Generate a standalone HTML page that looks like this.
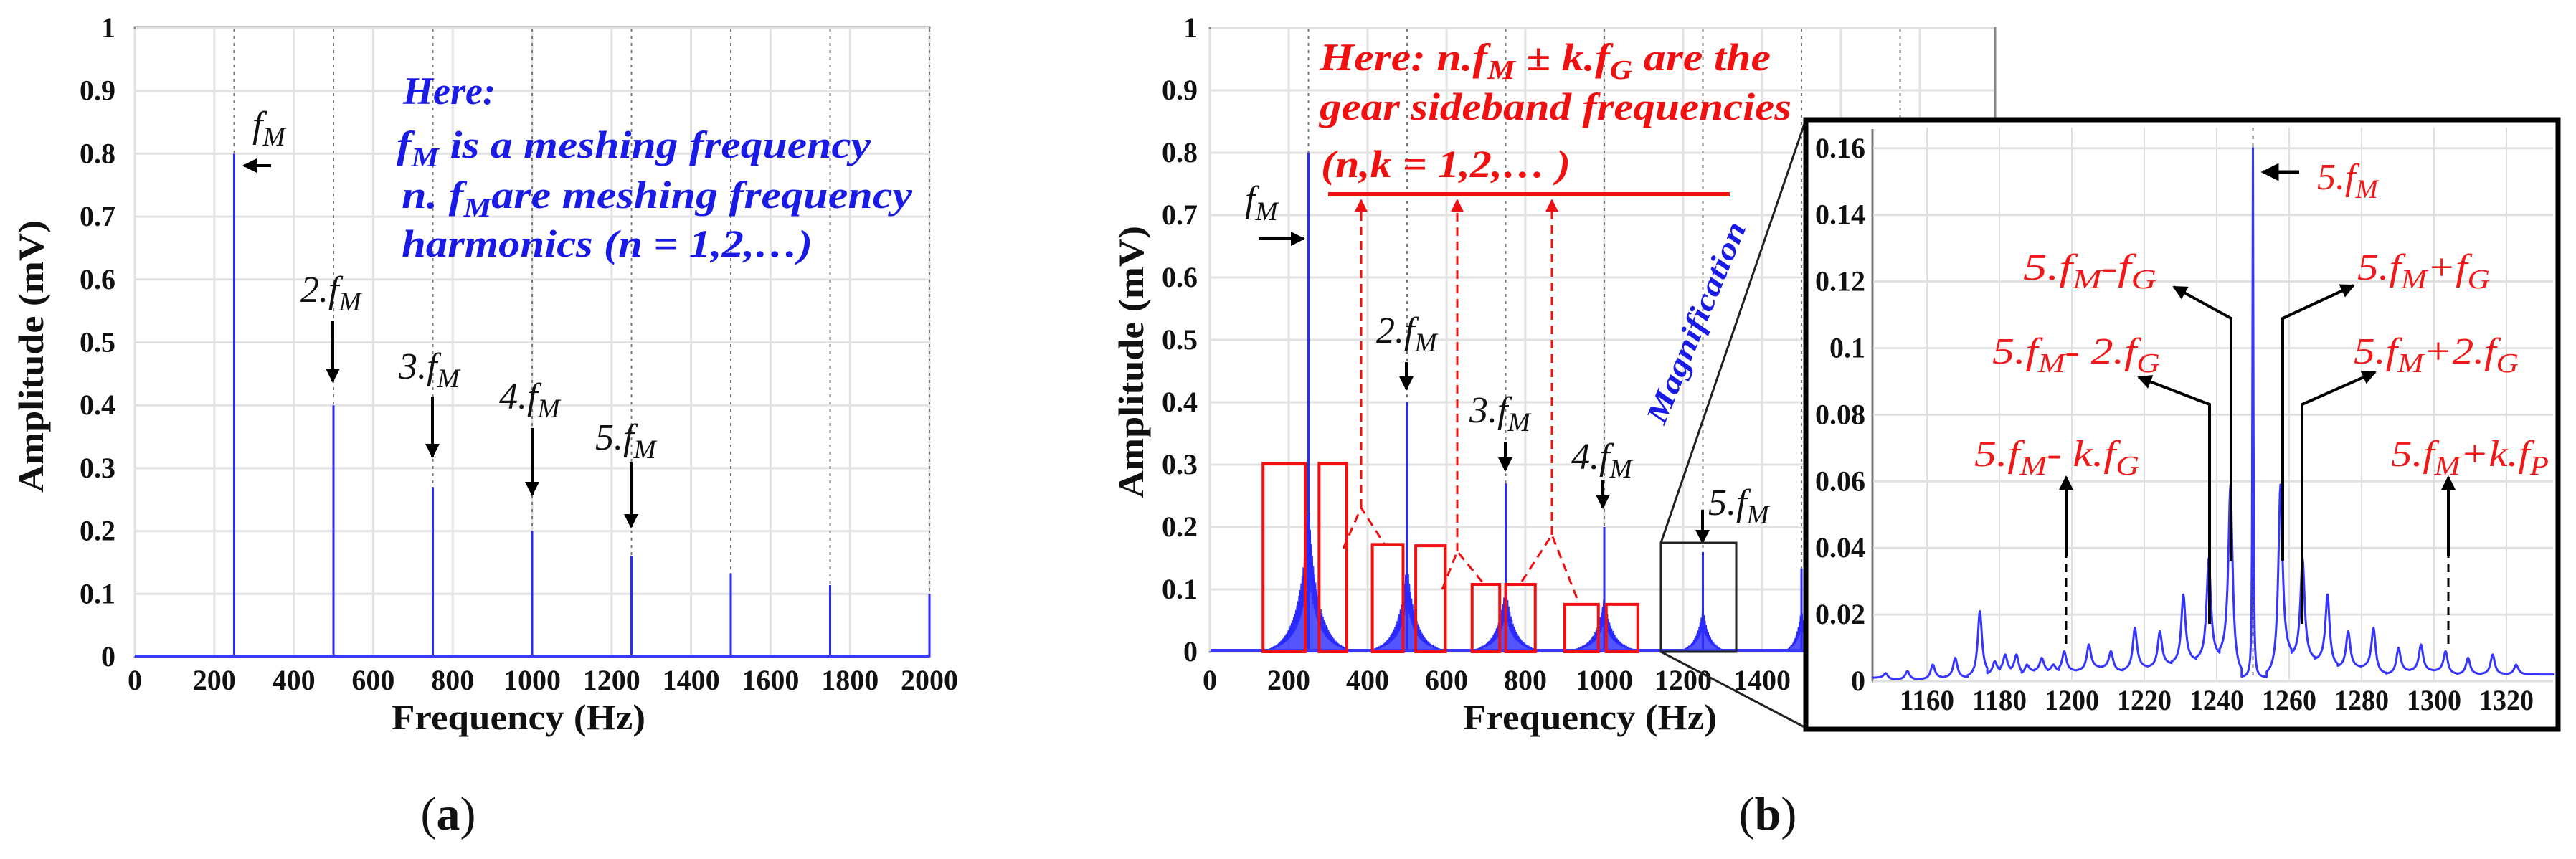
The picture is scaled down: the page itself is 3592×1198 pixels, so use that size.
<!DOCTYPE html>
<html><head><meta charset="utf-8"><style>
html,body{margin:0;padding:0;background:#fff;}
svg{display:block;}
text{font-family:"Liberation Serif","DejaVu Serif",serif;}
.tk{font-weight:bold;font-size:40px;fill:#111;}
.ttl{font-weight:bold;font-size:50px;fill:#111;}
.ann{font-style:italic;font-size:52px;fill:#111;}
.blue{font-style:italic;font-weight:bold;font-size:54px;fill:#1a1ae6;}
.red{font-style:italic;font-weight:bold;font-size:54px;fill:#f01010;}
.redi{font-style:italic;font-size:52px;fill:#f01818;}
</style></head><body>
<svg id="fig" width="3592" height="1198" viewBox="0 0 3592 1198" xmlns="http://www.w3.org/2000/svg">
<defs>
<marker id="ah" viewBox="0 0 10 10" refX="9" refY="5" markerWidth="5" markerHeight="5" orient="auto"><path d="M0,0 L10,5 L0,10 z" fill="#000"/></marker>
<marker id="ahr" viewBox="0 0 10 10" refX="9" refY="5" markerWidth="6" markerHeight="6" orient="auto"><path d="M0,0 L10,5 L0,10 z" fill="#f01010"/></marker>
</defs>
<g id="pa"></g>
<g id="pb"></g>
<g id="pi"></g>
</svg>
<script>
const aXTicks=[0,200,400,600,800,1000,1200,1400,1600,1800,2000];
const aYTicks=[0,0.1,0.2,0.3,0.4,0.5,0.6,0.7,0.8,0.9,1];
const aYTickLabels=["0","0.1","0.2","0.3","0.4","0.5","0.6","0.7","0.8","0.9","1"];
const aHarmHz=[250,500,750,1000,1250,1500,1750,2000];
const aHarmAmp=[0.8,0.4,0.27,0.2,0.16,0.133,0.114,0.1];

const bXTicks=[0,200,400,600,800,1000,1200,1400];
const bYTicks=[0,0.1,0.2,0.3,0.4,0.5,0.6,0.7,0.8,0.9,1];
const bHarmHz=[250,500,750,1000,1250,1500];
const bHarmAmp=[0.8,0.4,0.27,0.2,0.16,0.133];
const bSkirtAmp=[0.25,0.15,0.11,0.09,0.07,0.07];
const bSkirtHalfWidth=[110,95,85,85,55,40];
const bBoxLeftHz=[135,277,412,522,665,750,900,1005];
const bBoxRightHz=[242,347,490,597,735,825,985,1085];
const bBoxTop=[0.302,0.302,0.172,0.17,0.108,0.108,0.076,0.076];

const iXTicks=[1160,1180,1200,1220,1240,1260,1280,1300,1320];
const iYTicks=[0,0.02,0.04,0.06,0.08,0.1,0.12,0.14,0.16];
const iYTickLabels=["0","0.02","0.04","0.06","0.08","0.1","0.12","0.14","0.16"];
const iPeakHz=[1148.6,1154.6,1161.6,1167.8,1174.6,1178.7,1181.6,1184.7,1187.6,1191.7,1194.9,1197.9,1204.7,1210.8,1217.4,1224.3,1230.8,1237.8,1243.8,1250,1257.6,1263.7,1270.6,1276.3,1283.3,1290.2,1296.4,1303.2,1309.4,1316.2,1322.7];
const iPeakAmp=[0.0024,0.003,0.005,0.007,0.021,0.006,0.008,0.008,0.005,0.007,0.005,0.009,0.011,0.009,0.016,0.015,0.026,0.037,0.059,0.16,0.059,0.037,0.026,0.015,0.016,0.010,0.011,0.009,0.007,0.008,0.005];
const iTroughAmp=[0.001,0.0005,0.0005,0.001,0.001,0.002,0.003,0.003,0.002,0.003,0.003,0.003,0.003,0.004,0.003,0.004,0.005,0.006,0.007,0.001,0.001,0.007,0.006,0.004,0.004,0.002,0.003,0.003,0.002,0.002,0.002,0.002];

const NS="http://www.w3.org/2000/svg";
function mk(parent,tag,attrs){const e=document.createElementNS(NS,tag);for(const k in attrs)e.setAttribute(k,attrs[k]);parent.appendChild(e);return e;}
function fm(parent,x,y,pre,sub,cls,size){
  const t=mk(parent,'text',{x:x,y:y,class:cls});
  const a=mk(t,'tspan',{});a.textContent=pre+'f';
  const b=mk(t,'tspan',{dy:12,'font-size':size*0.72});b.textContent=sub;
  return t;
}

/* ---------- Panel A ---------- */
const pa=document.getElementById('pa');
const xa=f=>188+f*0.554;
const ya=v=>916-v*877;
mk(pa,'rect',{x:188,y:38,width:1108,height:878,fill:'#fff',stroke:'#888','stroke-width':3});
aXTicks.forEach(t=>{
  const l=mk(pa,'line',{x1:xa(t),x2:xa(t),y1:40,y2:915,stroke:'#e2e2e2','stroke-width':3});
  
  const tx=mk(pa,'text',{x:xa(t),y:962,class:'tk','text-anchor':'middle'});tx.textContent=t;
  
});
aYTicks.forEach((t,i)=>{
  const l=mk(pa,'line',{x1:189,x2:1295,y1:ya(t),y2:ya(t),stroke:'#e2e2e2','stroke-width':3});
  
  const tx=mk(pa,'text',{x:161,y:ya(t)+13,class:'tk','text-anchor':'end'});tx.textContent=aYTickLabels[i];
  
});
aHarmHz.forEach((h,i)=>{
  const d=mk(pa,'line',{x1:xa(h),x2:xa(h),y1:40,y2:ya(aHarmAmp[i]),stroke:'#777','stroke-width':2,'stroke-dasharray':'4 6'});
  
  const s=mk(pa,'line',{x1:xa(h),x2:xa(h),y1:ya(0),y2:ya(aHarmAmp[i]),stroke:'#2a2aff','stroke-width':3});
  
});
mk(pa,'line',{x1:188,x2:1296,y1:ya(0)-1,y2:ya(0)-1,stroke:'#3a3aff','stroke-width':4,});
(function(){
 const t=mk(pa,'text',{x:723,y:1017,class:'ttl','text-anchor':'middle',textLength:354,lengthAdjust:'spacingAndGlyphs'});t.textContent='Frequency (Hz)';
 
 const a=mk(pa,'text',{x:0,y:0,class:'ttl','text-anchor':'middle',transform:'translate(60,497) rotate(-90)',textLength:380,lengthAdjust:'spacingAndGlyphs'});a.textContent='Amplitude (mV)';
 
 const c=mk(pa,'text',{x:625,y:1157,'font-size':66,'text-anchor':'middle',fill:'#111'});c.textContent='(';const cb=mk(c,'tspan',{'font-weight':'bold'});cb.textContent='a';const ce=mk(c,'tspan',{});ce.textContent=')';
 
 const g=mk(pa,'g',{});
 const l1=mk(g,'text',{x:562,y:145,class:'blue'});l1.textContent='Here:';
 const l2=mk(g,'text',{x:553,y:220,class:'blue',textLength:661,lengthAdjust:'spacingAndGlyphs'});
 mk(l2,'tspan',{}).textContent='f';mk(l2,'tspan',{dy:12,'font-size':38}).textContent='M';mk(l2,'tspan',{dy:-12}).textContent=' is a meshing frequency';
 const l3=mk(g,'text',{x:560,y:290,class:'blue',textLength:712,lengthAdjust:'spacingAndGlyphs'});
 mk(l3,'tspan',{}).textContent='n. f';mk(l3,'tspan',{dy:12,'font-size':38}).textContent='M';mk(l3,'tspan',{dy:-12}).textContent='are meshing frequency';
 const l4=mk(g,'text',{x:560,y:358,class:'blue',textLength:573,lengthAdjust:'spacingAndGlyphs'});l4.textContent='harmonics (n = 1,2,…)';
 const f1=fm(pa,352,191,'','M','ann',52);
 mk(pa,'line',{x1:378,x2:340,y1:231,y2:231,stroke:'#000','stroke-width':4,'marker-end':'url(#ah)',});
 const labs=[[419,421,'2.',464,448,532],[556,528,'3.',603,553,637],[696,570,'4.',742,597,690],[830,627,'5.',880,645,735]];
 labs.forEach(L=>{
  const t=fm(pa,L[0],L[1],L[2],'M','ann',52);
  const ar=mk(pa,'line',{x1:L[3],x2:L[3],y1:L[4],y2:L[5],stroke:'#000','stroke-width':4,'marker-end':'url(#ah)'});
  
 });
})();

/* ---------- Panel B ---------- */
const pb=document.getElementById('pb');
const xb=f=>1687+f*0.55;
const yb=v=>909-v*870;
mk(pb,'rect',{x:1687,y:39,width:1095,height:870,fill:'#fff',stroke:'#888','stroke-width':3});
[0,200,400,600,800,1000,1200,1400,1600,1800].forEach(t=>{
  const l=mk(pb,'line',{x1:xb(t),x2:xb(t),y1:40,y2:908,stroke:'#e2e2e2','stroke-width':3});
  
});
bXTicks.forEach(t=>{
  const tx=mk(pb,'text',{x:xb(t),y:962,class:'tk','text-anchor':'middle'});tx.textContent=t;
  
});
bYTicks.forEach((t,i)=>{
  const l=mk(pb,'line',{x1:1688,x2:2780,y1:yb(t),y2:yb(t),stroke:'#e2e2e2','stroke-width':3});
  
  const tx=mk(pb,'text',{x:1670,y:yb(t)+13,class:'tk','text-anchor':'end'});tx.textContent=aYTickLabels[i];
  
});
[250,500,750,1000,1250,1500,1750].forEach(h=>{
  const d=mk(pb,'line',{x1:xb(h),x2:xb(h),y1:40,y2:908,stroke:'#777','stroke-width':2,'stroke-dasharray':'4 6'});
  
});
bHarmHz.forEach((h,i)=>{
  const w=bSkirtHalfWidth[i],A=bSkirtAmp[i];let d='M'+xb(h-w)+','+yb(0);
  let k=0;
  for(let f=h-w;f<=h+w;f+=0.9){k++;const r=Math.abs(f-h)/w;const env=A*Math.pow(1-r,1.5)/(1+Math.abs(f-h)/25)*(k%3===0?1:(k%3===1?0.5:0.75))+0.003;d+=' L'+xb(f).toFixed(1)+','+yb(env).toFixed(1);}
  d+=' L'+xb(h+w)+','+yb(0)+' Z';
  const p=mk(pb,'path',{d:d,fill:'#2a2aff','fill-opacity':0.8,stroke:'#2a2aff','stroke-width':1.2});
  
  const s=mk(pb,'line',{x1:xb(h),x2:xb(h),y1:yb(0),y2:yb(bHarmAmp[i]),stroke:'#2a2aff','stroke-width':3});
  
});
mk(pb,'line',{x1:1688,x2:2781,y1:yb(0)-2,y2:yb(0)-2,stroke:'#3a3aff','stroke-width':4,});
bBoxLeftHz.forEach((l,i)=>{
  const r=mk(pb,'rect',{x:xb(l),y:yb(bBoxTop[i]),width:xb(bBoxRightHz[i])-xb(l),height:yb(0)-yb(bBoxTop[i]),fill:'none',stroke:'#f01010','stroke-width':4});
  
});
(function(){
 const t=mk(pb,'text',{x:2217,y:1017,class:'ttl','text-anchor':'middle',textLength:354,lengthAdjust:'spacingAndGlyphs'});t.textContent='Frequency (Hz)';
 
 const a=mk(pb,'text',{x:0,y:0,class:'ttl','text-anchor':'middle',transform:'translate(1594,505) rotate(-90)',textLength:380,lengthAdjust:'spacingAndGlyphs'});a.textContent='Amplitude (mV)';
 
 const c=mk(pb,'text',{x:2465,y:1157,'font-size':66,'text-anchor':'middle',fill:'#111'});c.textContent='(';const cb=mk(c,'tspan',{'font-weight':'bold'});cb.textContent='b';const ce=mk(c,'tspan',{});ce.textContent=')';
 
 const g=mk(pb,'g',{});
 const l1=mk(g,'text',{x:1840,y:98,class:'red',textLength:629,lengthAdjust:'spacingAndGlyphs'});
 mk(l1,'tspan',{}).textContent='Here: n.f';mk(l1,'tspan',{dy:12,'font-size':38}).textContent='M';mk(l1,'tspan',{dy:-12}).textContent=' ± k.f';mk(l1,'tspan',{dy:12,'font-size':38}).textContent='G';mk(l1,'tspan',{dy:-12}).textContent='  are the';
 const l2=mk(g,'text',{x:1840,y:167,class:'red',textLength:658,lengthAdjust:'spacingAndGlyphs'});l2.textContent='gear sideband frequencies';
 const l3=mk(g,'text',{x:1842,y:247,class:'red',textLength:348,lengthAdjust:'spacingAndGlyphs'});l3.textContent='(n,k = 1,2,… )';
 mk(pb,'line',{x1:1852,x2:2412,y1:271,y2:271,stroke:'#f01010','stroke-width':6,});
 const P=[[1898,708,1873,765,1931,760],[2032,769,2011,822,2068,813],[2164,746,2122,811,2202,842]];
 P.forEach(p=>{
  const g2=mk(pb,'g',{stroke:'#f01010','stroke-width':3,'stroke-dasharray':'12 8',fill:'none'});
  mk(g2,'line',{x1:p[0],x2:p[0],y1:p[1],y2:279,'marker-end':'url(#ahr)'});
  mk(g2,'polyline',{points:p[2]+','+p[3]+' '+p[0]+','+p[1]+' '+p[4]+','+p[5]});
 });
 const f1=fm(pb,1736,295,'','M','ann',52);
 mk(pb,'line',{x1:1755,x2:1818,y1:333,y2:333,stroke:'#000','stroke-width':4,'marker-end':'url(#ah)',});
 const labs=[[1919,478,'2.',1961,505,543],[2049,589,'3.',2099,616,656],[2191,654,'4.',2235,669,708],[2382,718,'5.',2374,711,757]];
 labs.forEach(L=>{
  const t=fm(pb,L[0],L[1],L[2],'M','ann',52);
  const ar=mk(pb,'line',{x1:L[3],x2:L[3],y1:L[4],y2:L[5],stroke:'#000','stroke-width':4,'marker-end':'url(#ah)'});
  
 });
 mk(pb,'rect',{x:2316,y:757,width:105,height:152,fill:'none',stroke:'#222','stroke-width':3,});
 mk(pb,'line',{x1:2316,y1:757,x2:2518,y2:167,stroke:'#222','stroke-width':3,});
 mk(pb,'line',{x1:2316,y1:909,x2:2518,y2:1015,stroke:'#222','stroke-width':3,});
 const m=mk(pb,'text',{x:0,y:0,'font-size':42,'font-weight':'bold','font-style':'italic',fill:'#1a1ae6','text-anchor':'middle',transform:'translate(2378,455) rotate(-67.5)',textLength:300,lengthAdjust:'spacingAndGlyphs'});m.textContent='Magnification';
 
})();

/* ---------- Inset ---------- */
const pi=document.getElementById('pi');
const xi=f=>2687+(f-1160)*5.05;
const yi=v=>950-v*4645;
mk(pi,'rect',{x:2518,y:167,width:1049,height:850,fill:'#fff',stroke:'#000','stroke-width':7,});
mk(pi,'line',{x1:2611,x2:2611,y1:180,y2:950,stroke:'#777','stroke-width':3});
mk(pi,'line',{x1:2611,x2:3560,y1:950,y2:950,stroke:'#888','stroke-width':3});
iXTicks.forEach(t=>{
  const l=mk(pi,'line',{x1:xi(t),x2:xi(t),y1:178,y2:948,stroke:'#e0e0e0','stroke-width':2});
  
  const tx=mk(pi,'text',{x:xi(t),y:990,class:'tk','text-anchor':'middle','font-size':38,textLength:76,lengthAdjust:'spacingAndGlyphs'});tx.textContent=t;
  
});
iYTicks.forEach((t,i)=>{
  const l=mk(pi,'line',{x1:2612,x2:3560,y1:yi(t),y2:yi(t),stroke:'#e0e0e0','stroke-width':3});
  
  const tx=mk(pi,'text',{x:2601,y:yi(t)+13,class:'tk','text-anchor':'end','font-size':38});tx.textContent=iYTickLabels[i];
  
});
mk(pi,'line',{x1:xi(1250),x2:xi(1250),y1:178,y2:948,stroke:'#777','stroke-width':2,'stroke-dasharray':'5 6'});
(function(){
 let d='M'+xi(1145)+','+yi(iTroughAmp[0]);
 iPeakHz.forEach((h,i)=>{
   const prev=i===0?1145:(iPeakHz[i-1]+h)/2;
   const next=i===iPeakHz.length-1?1333:(iPeakHz[i+1]+h)/2;
   const a=iPeakAmp[i],ta=iTroughAmp[i],tb=iTroughAmp[i+1];
   const g=h===1250?0.15:0.7;
   const n=24;
   for(let j=0;j<=n;j++){const f=prev+(h-prev)*j/n;const u=(f-h)/g;const v=ta+(a-ta)/(1+u*u);d+=' L'+xi(f).toFixed(1)+','+yi(Math.max(v,ta)).toFixed(1);}
   for(let j=1;j<=n;j++){const f=h+(next-h)*j/n;const u=(f-h)/g;const v=tb+(a-tb)/(1+u*u);d+=' L'+xi(f).toFixed(1)+','+yi(v).toFixed(1);}
 });
 d+=' L'+xi(1333)+','+yi(0.002);
 const p=mk(pi,'path',{d:d,fill:'none',stroke:'#3535ff','stroke-width':3,'stroke-linejoin':'round'});
 
 const f5=fm(pi,3231,264,'5.','M','redi',52);
 mk(pi,'line',{x1:3206,x2:3155,y1:240,y2:240,stroke:'#000','stroke-width':5,'marker-end':'url(#ah)',});
 function lab(x,y,parts,name,len){
   const t=mk(pi,'text',{x:x,y:y,class:'redi',textLength:len,lengthAdjust:'spacingAndGlyphs'});
   parts.forEach(p=>{const s=mk(t,'tspan',p[1]?{dy:p[1],'font-size':p[2]||52}:{});s.textContent=p[0];});
   
 }
 lab(2821,390,[['5.f'],['M',12,38],['-f',-12],['G',12,38]],'label-5fm-minus-fg',186);
 lab(3287,390,[['5.f'],['M',12,38],['+f',-12],['G',12,38]],'label-5fm-plus-fg',185);
 lab(2778,507,[['5.f'],['M',12,38],['- 2.f',-12],['G',12,38]],'label-5fm-minus-2fg',234);
 lab(3282,507,[['5.f'],['M',12,38],['+2.f',-12],['G',12,38]],'label-5fm-plus-2fg',230);
 lab(2753,650,[['5.f'],['M',12,38],['- k.f',-12],['G',12,38]],'label-5fm-minus-kfg',230);
 lab(3334,650,[['5.f'],['M',12,38],['+k.f',-12],['P',12,38]],'label-5fm-plus-kfp',220);
 const arrows=[[3111,1243.8,444,3031,400],[3183,1257.6,444,3282,398],[3081,1237.8,564,2982,526],[3210,1263.7,564,3312,519]];
 arrows.forEach((A,i)=>{
   const g=mk(pi,'g',{});
   const pk=iPeakAmp[iPeakHz.indexOf(A[1])];
   mk(g,'line',{x1:A[0],x2:A[0],y1:yi(pk)-5,y2:i<2?782:870,stroke:'#000','stroke-width':3,'stroke-dasharray':'18 8 4 8'});
   mk(g,'polyline',{points:A[0]+','+(i<2?782:870)+' '+A[0]+','+A[2]+' '+A[3]+','+A[4],fill:'none',stroke:'#000','stroke-width':4,'marker-end':'url(#ah)'});
 });
 [[2881,898,665],[3414,898,665]].forEach(A=>{
   const g=mk(pi,'g',{});
   mk(g,'line',{x1:A[0],x2:A[0],y1:A[1],y2:776,stroke:'#000','stroke-width':3,'stroke-dasharray':'12 8'});
   mk(g,'line',{x1:A[0],x2:A[0],y1:776,y2:A[2],stroke:'#000','stroke-width':4,'marker-end':'url(#ah)'});
 });
})();
</script>
</body></html>
